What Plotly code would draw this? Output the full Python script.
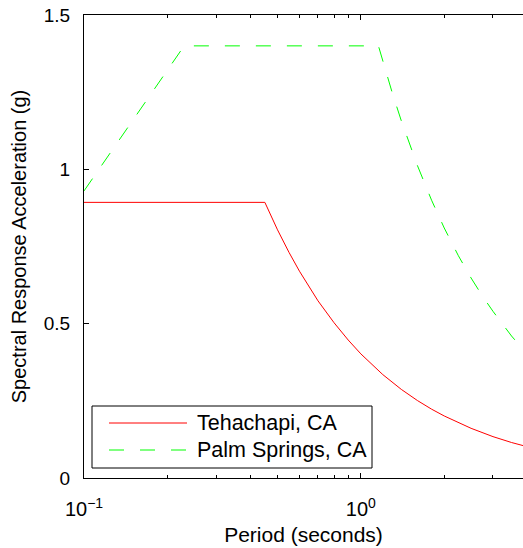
import plotly.graph_objects as go

# Tehachapi, CA design spectrum (period s, spectral acceleration g)
teh_T = [0.1, 0.45, 0.5, 0.55, 0.6, 0.7, 0.8, 0.9, 1.0, 1.2, 1.4, 1.6, 1.8, 2.0, 2.5, 3.0, 3.5, 4.0]
teh_SA = [0.893, 0.893, 0.804, 0.731, 0.670, 0.574, 0.503, 0.447, 0.402, 0.335, 0.287, 0.251, 0.223,
          0.201, 0.161, 0.134, 0.115, 0.101]

# Palm Springs, CA design spectrum
ps_T = [0.1, 0.23, 1.157, 1.2, 1.3, 1.4, 1.5, 1.6, 1.8, 2.0, 2.25, 2.5, 2.75, 3.0, 3.5, 4.0]
ps_SA = [0.93, 1.4, 1.4, 1.35, 1.246, 1.157, 1.08, 1.0125, 0.9, 0.81, 0.72, 0.648, 0.589, 0.54, 0.46, 0.40]

series_names = ["Tehachapi, CA", "Palm Springs, CA"]

x_tickvals = [0.1, 1]
x_ticktext = ["10<sup>\u22121</sup>", "10<sup>0</sup>"]
x_minor = [0.2, 0.3, 0.4, 0.5, 0.6, 0.7, 0.8, 0.9, 2, 3]
y_tickvals = [0, 0.5, 1, 1.5]
y_ticktext = ["0", "0.5", "1", "1.5"]

FONT = "Liberation Sans, Arial, Helvetica, sans-serif"

fig = go.Figure()
fig.add_trace(go.Scatter(x=teh_T, y=teh_SA, mode="lines", name=series_names[0],
                         line=dict(color="#ff0000", width=1), showlegend=False))
fig.add_trace(go.Scatter(x=ps_T, y=ps_SA, mode="lines", name=series_names[1],
                         line=dict(color="#00ff00", width=1, dash="15px,16px"), showlegend=False))

L, R, T_, B = 84, 523, 15, 478   # plot area in page pixels
W, H = 523, 548


def px(x):
    return (x - L) / (R - L)


def py(y):
    return (B - y) / (B - T_)


fig.add_shape(type="rect", xref="paper", yref="paper",
              x0=px(92), x1=px(372), y0=py(468), y1=py(406),
              line=dict(color="black", width=1), fillcolor="white", layer="above")
fig.add_shape(type="line", xref="paper", yref="paper",
              x0=px(109), x1=px(187), y0=py(423), y1=py(423),
              line=dict(color="#ff0000", width=1), layer="above")
fig.add_shape(type="line", xref="paper", yref="paper",
              x0=px(109), x1=px(187), y0=py(450), y1=py(450),
              line=dict(color="#00ff00", width=1, dash="15px,16px"), layer="above")
for name, yy in zip(series_names, [423, 450]):
    fig.add_annotation(xref="paper", yref="paper", x=px(195), y=py(yy), text=name,
                       showarrow=False, xanchor="left", yanchor="middle",
                       font=dict(family=FONT, size=21.5, color="black"))

fig.update_layout(
    width=W, height=H,
    margin=dict(l=L, r=W - R, t=T_, b=H - B, pad=0),
    plot_bgcolor="white", paper_bgcolor="white",
    font=dict(family=FONT, size=20, color="black"),
    xaxis=dict(type="log", range=[-1, 0.5855], showgrid=False, zeroline=False,
               showline=True, linecolor="black", linewidth=1, mirror="ticks",
               ticks="inside", ticklen=5, tickcolor="black",
               tickvals=x_tickvals, ticktext=x_ticktext, ticklabelstandoff=13,
               ticklabeloverflow="allow",
               tickfont=dict(family=FONT, size=20),
               minor=dict(tickvals=x_minor, ticks="inside", ticklen=3, tickcolor="black"),
               title=dict(text="Period (seconds)", standoff=8,
                          font=dict(family=FONT, size=21))),
    yaxis=dict(range=[0, 1.5], showgrid=False, zeroline=False,
               showline=True, linecolor="black", linewidth=1,
               ticks="inside", ticklen=5, tickcolor="black",
               tickvals=y_tickvals, ticktext=y_ticktext, ticklabelstandoff=9,
               ticklabeloverflow="allow",
               tickfont=dict(family=FONT, size=19),
               title=dict(text="Spectral Response Acceleration (g)", standoff=11,
                          font=dict(family=FONT, size=20))),
)

fig.write_html("out.html", config={"displayModeBar": False},
               post_script="document.body.style.margin='0';document.body.style.overflow='hidden';")
